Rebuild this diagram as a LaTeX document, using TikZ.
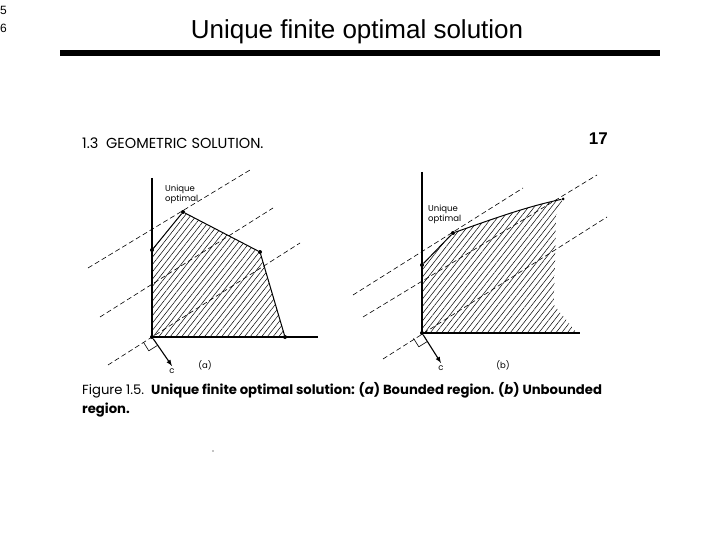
\documentclass[tikz,border=0pt]{standalone}
\usepackage{fontspec}
\setmainfont{Liberation Sans}
\newfontfamily\bookfont{Poppins}
\usetikzlibrary{patterns.meta,positioning,calc}

\begin{document}
\begin{tikzpicture}[x=1pt,y=-1pt,inner sep=0pt,>=latex,
  iso/.style={dash pattern=on 5pt off 3pt,line width=.6pt},
  vx/.style={circle,fill=black,minimum size=4pt,inner sep=0pt},
  hatch/.style={pattern={Lines[angle=52,distance=4.5pt,line width=.5pt]}},
  axis/.style={line width=1.3pt},
  edge/.style={line width=1pt},
  small/.style={font=\bookfont\fontsize{8.5}{9.5}\selectfont,align=left}]
\useasboundingbox (0,0) rectangle (720,540);
% header
\node [anchor=west,font=\fontsize{12}{14}\selectfont] (n5) at (0,10) {5};
\node [anchor=west,font=\fontsize{12}{14}\selectfont] (n6) at (0,28) {6};
\node [font=\fontsize{26}{30}\selectfont] (title) at (357,32) {Unique finite optimal solution};
\fill (60,50) rectangle (660,56);
% book page
\node [anchor=west,font=\bookfont\fontsize{14.5}{16}\selectfont] (sect) at (82,143) {1.3\ \ GEOMETRIC SOLUTION.};
\node [anchor=east,font=\bfseries\fontsize{17}{20}\selectfont] (page) at (608,139) {17};

% (a) bounded region
\node [vx] (a0) at (152,337) {};
\node [vx] (a1) at (152,250) {};
\node [vx] (a2) at (183,212) {};
\node [vx] (a3) at (260,252) {};
\node [vx] (a4) at (285,337) {};
\coordinate (ay) at (152,178);
\coordinate (ax) at (318,337);
\fill [hatch] (a0.center) -- (a1.center) -- (a2.center) -- (a3.center) -- (a4.center) -- cycle;
\draw [axis] (ay) -- (a0.center) -- (ax);
\draw [edge] (a1) -- (a2) -- (a3) -- (a4);
\coordinate (p1) at (88,268);  \coordinate (q1) at (250,170);
\coordinate (p2) at (100,317); \coordinate (q2) at (273,208);
\coordinate (p3) at (108,365); \coordinate (q3) at (300,243);
\draw [iso] (p1) -- (q1);
\draw [iso] (p2) -- (q2);
\draw [iso] (p3) -- (q3);
\draw [line width=.6pt] ($(a0)+(-8.5,5.3)$) -- ++(5.3,8.5) -- ($(a0)+(5.3,8.5)$);
\coordinate (ca) at (172,366);
\draw [->,line width=1.1pt] (a0) -- (ca);
\node [small,below=3pt of ca] (ca-l) {c};
\node [small] (la) at (205,365) {(a)};
\node [small,anchor=north west] (ua) at (165,185) {Unique\\optimal};

% (b) unbounded region
\node [vx] (b0) at (422,333) {};
\node [vx] (b1) at (422,265) {};
\node [vx] (b2) at (453,233) {};
\node [vx,minimum size=3pt] (b3) at (563,199) {};
\coordinate (by) at (422,172);
\coordinate (bx) at (580,333);
\fill [hatch] (b0.center) -- (b1.center) -- (b2.center) .. controls (490,220) and (525,207) .. (b3.center)
  -- (556,216) -- (554,305) -- (577,333) -- cycle;
\draw [axis] (by) -- (b0.center) -- (bx);
\draw [edge] (b1) -- (b2) .. controls (490,220) and (525,207) .. (b3);
\coordinate (r1) at (353,295); \coordinate (s1) at (523,188);
\coordinate (r2) at (363,317); \coordinate (s2) at (597,175);
\coordinate (r3) at (383,359); \coordinate (s3) at (607,217);
\draw [iso] (r1) -- (s1);
\draw [iso] (r2) -- (s2);
\draw [iso] (r3) -- (s3);
\draw [line width=.6pt] ($(b0)+(-8.5,5.3)$) -- ++(5.3,8.5) -- ($(b0)+(5.3,8.5)$);
\coordinate (cb) at (441,363);
\draw [->,line width=1.1pt] (b0) -- (cb);
\node [small,below=3pt of cb] (cb-l) {c};
\node [small] (lb) at (503,365) {(b)};
\node [small,anchor=north west] (ub) at (428,205) {Unique\\optimal};

% caption
\node [anchor=north west,align=left,font=\bookfont\fontsize{13.2}{19}\selectfont] (cap) at (82,382)
  {Figure 1.5.\ \ \textbf{Unique finite optimal solution: (\textit{a}) Bounded region. (\textit{b}) Unbounded}\\
   \textbf{region.}};
\fill (213,451) circle (.6pt);
\end{tikzpicture}
\end{document}
